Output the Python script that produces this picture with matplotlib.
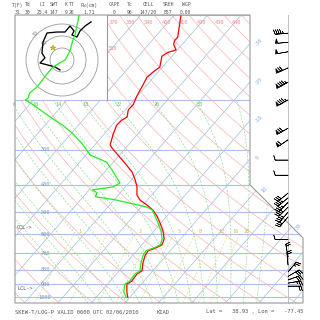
import numpy as np
import matplotlib
matplotlib.use("Agg")
import matplotlib.pyplot as plt
import matplotlib.transforms as mtransforms
from matplotlib.patches import Polygon, Rectangle, Circle

# KIAD sounding, 0600 UTC 02/06/2010
temp_p = [100, 120, 123, 127, 133, 136, 140, 153, 159, 166, 177, 185, 194, 208, 217,
          230, 236, 246, 266, 289, 296, 314, 335, 360, 384, 407, 435, 453, 472, 492,
          517, 547, 583, 622, 653, 669, 686, 715, 757, 808, 828, 878, 900, 961, 1002]
temp_t = [-58.0, -53.2, -53.3, -52.6, -50.4, -52.3, -53.0, -50.8, -51.5, -52.0, -51.2,
          -50.7, -50.1, -49.0, -49.1, -47.6, -48.4, -48.6, -47.2, -45.4, -44.1, -40.4,
          -36.3, -31.9, -28.9, -26.5, -24.4, -22.2, -18.8, -15.7, -12.9, -10.2, -7.3,
          -4.9, -4.0, -5.0, -6.6, -6.2, -5.0, -3.2, -3.9, -3.6, -4.3, -2.2, -0.6]

dwpt_p = [100, 118, 123, 133, 144, 153, 161, 180, 189, 197, 200, 208, 232, 246, 262,
          285, 314, 327, 333, 355, 394, 407, 417, 427, 441, 452, 480, 492, 517, 547,
          583, 622, 653, 669, 686, 715, 757, 808, 828, 878, 900, 961, 1002]
dwpt_t = [-88.4, -84.4, -83.7, -82.0, -80.9, -82.7, -82.7, -82.3, -82.9, -82.1, -82.4,
          -78.9, -69.8, -64.7, -59.9, -54.3, -48.7, -43.9, -41.9, -38.3, -32.6, -33.7,
          -39.1, -36.9, -36.4, -29.7, -18.2, -15.9, -13.5, -10.8, -7.9, -5.5, -4.5,
          -5.6, -7.2, -6.8, -5.6, -3.8, -4.5, -4.2, -4.9, -3.1, -1.1]

# winds: pressure (hPa), direction (deg), speed (kt)
wind_p = [116, 125, 135, 154, 173, 200, 252, 277, 327, 370, 428, 445, 462, 480, 500,
          520, 626, 721, 770, 815, 845, 870, 893, 915]
wind_dir = [265, 265, 260, 245, 240, 240, 240, 235, 270, 270, 230, 230, 225, 225, 220,
            220, 270, 350, 355, 40, 60, 70, 80, 90]
wind_spd = [45, 50, 50, 70, 85, 85, 70, 60, 10, 10, 30, 35, 35, 40, 35,
            30, 10, 20, 20, 25, 30, 30, 25, 20]

# hodograph trace (m/s) and storm motion
hodo_u = [-1.7, -5.8, -18.3, -14.2, -16.7, -15.8, -12.5, -4.2, 2.5, 6.7, 10.0, 8.3,
          12.5, 15.0, 19.2, 21.7, 24.2]
hodo_v = [-8.3, -5.8, -2.5, 1.7, 5.8, 15.0, 22.5, 23.3, 23.3, 28.3, 24.2, 20.8,
          19.2, 24.2, 28.3, 30.0, 31.7]
storm_u, storm_v = -7.5, 10.0
hodo_rings = [10, 20, 30]

header_names = ["T(F)", "Td", "LI", "SWT", "K", "TT", "Pw(cm)", "CAPE", "Tc", "CELL", "SREH", "WGP"]
header_values = ["31", "30", "25.4", "147", "9", "26", "1.71", "0", "96", "147/20", "857", "0.00"]
header_x = [18, 28, 42, 54, 66, 72, 89, 114, 130, 148, 168, 186]

isobars = [100, 200, 300, 400, 500, 600, 700, 800, 900, 1000]
isobar_labels = [300, 400, 500, 600, 700, 800, 900, 1000]
isotherms = np.arange(-110, 60, 10)
dry_thetas = np.arange(230, 470, 10)
dry_label_thetas = [360, 370, 380, 390, 400, 410, 420, 430, 440]
moist_thetaw = np.arange(-14, 42, 4)
moist_label_thetaw = [6, 10, 14, 18, 22, 26, 30]
mix_ratios = [0.4, 1, 2, 3, 5, 8, 12, 16, 20]
mix_labels = {0.4: "1", 2: "2", 5: "5", 8: "8", 12: "12", 16: "16", 20: "20"}

SKEW = 31.8
P_BOT, P_TOP = 1050, 100
X_LEFT, X_RIGHT = -34.33, 51.64

BLUE = "#a9c1e6"
PINK = "#f7b4b4"
GREEN = "#98da98"
YELLOW = "#dedc98"
GRAY = "#555555"


def skew_x(t, p):
    return np.asarray(t, dtype=float) + SKEW * np.log(1000.0 / np.asarray(p, dtype=float))


def moist_adiabat(tw, pressures):
    Rd, cp, Lv, eps = 287.04, 1005.7, 2.501e6, 0.622

    def dtdp(t, p):
        tc = t - 273.15
        es = 6.112 * np.exp(17.67 * tc / (tc + 243.5))
        rs = eps * es / (p - es)
        return (Rd * t + Lv * rs) / p / (cp + Lv * Lv * rs * eps / (Rd * t * t))

    out = [tw + 273.15]
    for p0, p1 in zip(pressures[:-1], pressures[1:]):
        t = out[-1]
        dp = p1 - p0
        k1 = dtdp(t, p0)
        k2 = dtdp(t + 0.5 * dp * k1, p0 + 0.5 * dp)
        out.append(t + dp * k2)
    return np.array(out) - 273.15


def dewpoint_from_w(w, p):
    e = w * p / (622.0 + w)
    a = np.log(e / 6.112)
    return 243.5 * a / (17.67 - a)


fig = plt.figure(figsize=(3.2, 3.2), dpi=100)
ax = fig.add_axes([15 / 320, 17 / 320, 288 / 320, 288 / 320])
ax.set_yscale("log")
ax.set_ylim(P_BOT, P_TOP)
ax.set_xlim(X_LEFT, X_RIGHT)
ax.axis("off")

frame_xy = [(0, 1), (0.816, 1), (0.816, 0.4104), (1, 0.2257), (1, 0), (0, 0)]
clip = Polygon(frame_xy, closed=True, transform=ax.transAxes)

bg = []
p_all = np.geomspace(P_BOT, P_TOP, 200)
for p in isobars:
    bg += ax.plot([X_LEFT, X_RIGHT], [p, p], color=BLUE, lw=0.8)
for t in isotherms:
    bg += ax.plot(skew_x([t, t], [P_BOT, P_TOP]), [P_BOT, P_TOP], color=BLUE, lw=0.55)
for th in dry_thetas:
    t = th * (p_all / 1000.0) ** 0.2857 - 273.15
    bg += ax.plot(skew_x(t, p_all), p_all, color=PINK, lw=0.5)
p_up = np.linspace(1000, 200, 161)
p_dn = np.linspace(1000, 1050, 11)
for tw in moist_thetaw:
    t_up = moist_adiabat(tw, p_up)
    t_dn = moist_adiabat(tw, p_dn)
    pp = np.concatenate([p_dn[::-1], p_up[1:]])
    tt = np.concatenate([t_dn[::-1], t_up[1:]])
    bg += ax.plot(skew_x(tt, pp), pp, color=GREEN, lw=0.5, ls=(0, (3, 2)))
    if tw in moist_label_thetaw:
        ax.annotate(str(tw), (skew_x(t_up[-1], 200), 200), xytext=(2, -5),
                    textcoords="offset pixels", fontsize=3.8, color="#78b878",
                    family="DejaVu Sans Mono", ha="left", va="center",
                    annotation_clip=False)
p_mix = np.linspace(P_BOT, 600, 30)
for w in mix_ratios:
    td = dewpoint_from_w(w, p_mix)
    bg += ax.plot(skew_x(td, p_mix), p_mix, color=YELLOW, lw=0.5, ls=(0, (3, 2)))
    if w in mix_labels:
        ax.annotate(mix_labels[w], (skew_x(dewpoint_from_w(w, 600), 600), 600),
                    xytext=(4, 3), textcoords="offset pixels", fontsize=3.8,
                    color="#c8bf5a", family="DejaVu Sans Mono", ha="left", va="center")
for line in bg:
    line.set_clip_path(clip)
    line.set_zorder(1)

# labels on the background
left_blend = mtransforms.blended_transform_factory(ax.transAxes, ax.transData)
for p in isobar_labels:
    ax.text(0.104, p, str(p), transform=left_blend, fontsize=3.8, color="#7f98c4",
            family="DejaVu Sans Mono", ha="center", va="center")
x_edge = (250 - 130) / 3.35
iso_label_p = {}
for t in [-30, -20, -10, 0]:
    iso_label_p[t] = 1000.0 * np.exp(-(x_edge - t) / SKEW)
iso_label_p[10] = 418
iso_label_p[30] = 569
for t, p in iso_label_p.items():
    ax.annotate(str(t), (skew_x(t, p), p), xytext=(8, 1), textcoords="offset pixels",
                fontsize=3.8, color="#8aa9dc", family="DejaVu Sans Mono",
                ha="center", va="center", rotation=48, annotation_clip=False)
for th in dry_label_thetas:
    p = 131 if th == 360 else 106.7
    t = th * (p / 1000.0) ** 0.2857 - 273.15
    ax.annotate(str(th), (skew_x(t, p), p), xytext=(1, 0), textcoords="offset pixels",
                fontsize=3.8, color="#f08a8a", family="DejaVu Sans Mono",
                ha="left", va="center")

ax.text(0.007, 935, "LCL->", transform=left_blend, fontsize=3.8, color=GRAY,
        family="DejaVu Sans Mono", ha="left", va="center")
ax.text(0.007, 569, "CCL->", transform=left_blend, fontsize=3.8, color=GRAY,
        family="DejaVu Sans Mono", ha="left", va="center")

# frame
ax.add_patch(Polygon(frame_xy, closed=True, fill=False, ec="#9a9a9a", lw=0.8,
                     transform=ax.transAxes, clip_on=False, zorder=5))

# hodograph inset
ax.add_patch(Rectangle((0, 0.7049), 0.3194, 0.2951, transform=ax.transAxes,
                       fc="white", ec="none", zorder=2))
ax.plot([0.3194, 0.3194], [0.7049, 1], transform=ax.transAxes, color="#9a9a9a",
        lw=0.8, zorder=3)
hodo_tf = mtransforms.Affine2D().scale(1.2 / 288).translate(0.1632, 0.8438) + ax.transAxes
for r in hodo_rings:
    ax.add_patch(Circle((0, 0), r, transform=hodo_tf, fill=False, ec="#9a9a9a",
                        lw=0.6, zorder=3))
for r, s in zip(hodo_rings[1:], ["20", "30"]):
    ax.text(-r * 0.72, r * 0.72, s, transform=hodo_tf, fontsize=3.5, color="#777777",
            ha="center", va="center", rotation=45, zorder=3)
ax.plot(hodo_u, hodo_v, transform=hodo_tf, color="black", lw=0.95, zorder=3.5)
ax.plot([storm_u], [storm_v], transform=hodo_tf, marker="*", ms=4, color="#e0c020",
        mec="#a08000", mew=0.3, zorder=3.5)

# sounding
ax.plot(skew_x(temp_t, temp_p), temp_p, color="red", lw=0.9, zorder=4)
ax.plot(skew_x(dwpt_t, dwpt_p), dwpt_p, color="#22ee22", lw=0.9, zorder=4)

# wind barbs
ax.plot([0.948, 0.948], [0, 1], transform=ax.transAxes, color="#b8b8b8", lw=0.6,
        zorder=3, clip_on=False)
wd = np.radians(wind_dir)
u = -np.array(wind_spd) * np.sin(wd)
v = -np.array(wind_spd) * np.cos(wd)
ax.barbs(np.full(len(wind_p), 0.948), wind_p, u, v, transform=left_blend, length=4.3,
         linewidth=0.45, color="black", clip_on=False, zorder=5,
         sizes=dict(spacing=0.16, height=0.35, width=0.22))

# header and footer text
for name, val, x in zip(header_names, header_values, header_x):
    fig.text(x / 320, 1 - 5 / 320, name, fontsize=3.4, color=GRAY,
             family="DejaVu Sans Mono", ha="center", va="center")
    fig.text(x / 320, 1 - 12.5 / 320, val, fontsize=3.4, color=GRAY,
             family="DejaVu Sans Mono", ha="center", va="center")
fig.text(15 / 320, 1 - 312 / 320, "SKEW-T/LOG-P VALID 0600 UTC 02/06/2010", fontsize=4,
         color=GRAY, family="DejaVu Sans Mono", ha="left", va="center")
fig.text(157 / 320, 1 - 312 / 320, "KIAD", fontsize=4, color=GRAY,
         family="DejaVu Sans Mono", ha="left", va="center")
fig.text(303 / 320, 1 - 312 / 320, "Lat =   38.93 , Lon =   -77.45", fontsize=4,
         color=GRAY, family="DejaVu Sans Mono", ha="right", va="center")

fig.savefig("out.png", dpi=100, facecolor="white")
